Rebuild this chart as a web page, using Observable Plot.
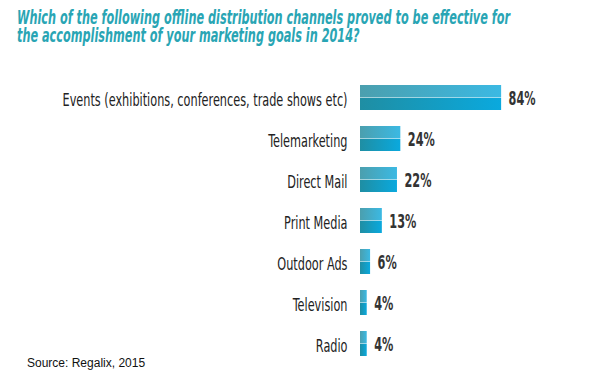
<!DOCTYPE html>
<html>
<head>
<meta charset="utf-8">
<script src="https://cdn.jsdelivr.net/npm/d3@7"></script>
<script src="https://cdn.jsdelivr.net/npm/@observablehq/plot@0.6"></script>
<style>
  html, body { margin: 0; padding: 0; background: #fff; }
  #wrap { position: relative; width: 589px; height: 377px; overflow: hidden; }
  #title { position: absolute; left: 17px; top: 9px; white-space: nowrap; transform-origin: 0 0; font-family: "DejaVu Sans", sans-serif; font-stretch: condensed; font-weight: bold; font-style: italic; font-size: 19.5px; line-height: 18px; color: #29a5b4; }
  #source { position: absolute; left: 27px; top: 356px; font-family: "Liberation Sans", Arial, sans-serif; font-size: 12px; color: #111; }
  #chart { position: absolute; left: 0; top: 0; }
  #chart text { font-stretch: condensed; }
</style>
</head>
<body>
<div id="wrap">
  <div id="chart"></div>
  <div id="title"><span id="t1">Which of the following offline distribution channels proved to be effective for</span><br>the accomplishment of your marketing goals in 2014?</div>
  <div id="source">Source: Regalix, 2015</div>
</div>
<script>
const channels = ["Events (exhibitions, conferences, trade shows etc)", "Telemarketing", "Direct Mail", "Print Media", "Outdoor Ads", "Television", "Radio"];
const shares = [84, 24, 22, 13, 6, 4, 4];
const valueLabels = ["84%", "24%", "22%", "13%", "6%", "4%", "4%"];

const data = channels.map((c, i) => ({channel: c, value: shares[i], label: valueLabels[i]}));
const bandH = 25.5;
const FONT = "DejaVu Sans, sans-serif";

const plot = Plot.plot({
  width: 589,
  height: 377,
  marginLeft: 360,
  marginRight: 61,
  marginTop: 68,
  marginBottom: 3,
  x: {domain: [0, 100], axis: null},
  y: {domain: channels, padding: 0.38, axis: null},
  style: {background: "transparent"},
  marks: [
    Plot.barX(data, {x: "value", y: "channel", fill: "url(#gTop)", insetBottom: bandH / 2}),
    Plot.barX(data, {x: "value", y: "channel", fill: "url(#gBot)", insetTop: bandH / 2}),
    Plot.text(data, {x: 0, y: "channel", text: "channel", textAnchor: "end", dx: -13, dy: 2.5, fontSize: 18.5, fill: "#222", fontFamily: FONT, className: "catlab"}),
    Plot.text(data, {x: "value", y: "channel", text: "label", textAnchor: "start", dx: 7, dy: 1, fontSize: 19.5, fontWeight: "bold", fill: "#333", fontFamily: FONT, className: "vallab"})
  ]
});

const ns = "http://www.w3.org/2000/svg";
const defs = document.createElementNS(ns, "defs");
function grad(id, c1, c2) {
  const g = document.createElementNS(ns, "linearGradient");
  g.setAttribute("id", id);
  g.setAttribute("x1", "0"); g.setAttribute("x2", "1");
  g.setAttribute("y1", "0"); g.setAttribute("y2", "0");
  [[0, c1], [1, c2]].forEach(([o, c]) => {
    const s = document.createElementNS(ns, "stop");
    s.setAttribute("offset", o);
    s.setAttribute("stop-color", c);
    g.appendChild(s);
  });
  defs.appendChild(g);
}
grad("gTop", "#4b9fae", "#3bb9e3");
grad("gBot", "#1f8ea3", "#0aa9de");
plot.insertBefore(defs, plot.firstChild);

document.getElementById("chart").appendChild(plot);

// Condense label glyphs horizontally to mimic the narrow typeface
function condense(selector, refText, targetWidth) {
  const texts = Array.from(plot.querySelectorAll(selector + " text"));
  const ref = texts.find(t => t.textContent === refText) || texts[0];
  const sx = targetWidth / ref.getComputedTextLength();
  texts.forEach(t => {
    const w = t.getComputedTextLength();
    t.setAttribute("textLength", w * sx);
    t.setAttribute("lengthAdjust", "spacingAndGlyphs");
  });
}
condense(".catlab", channels[0], 285);
condense(".vallab", "84%", 27);

const t1w = document.getElementById("t1").getBoundingClientRect().width;
document.getElementById("title").style.transform = `scaleX(${493 / t1w})`;
</script>
</body>
</html>
